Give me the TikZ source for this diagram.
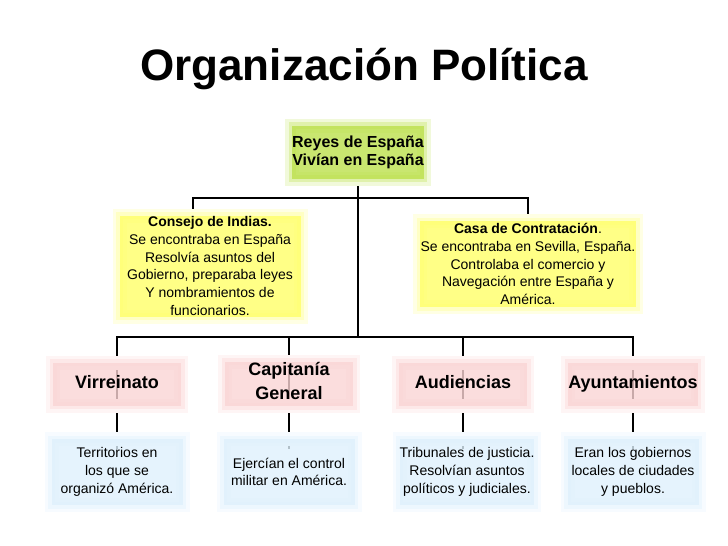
\documentclass[tikz,border=0pt]{standalone}
\usepackage{fontspec}
\setmainfont{Liberation Sans}
\usetikzlibrary{backgrounds}

\definecolor{reyesin}{RGB}{188,224,76}
\definecolor{reyesout}{RGB}{224,241,172}
\definecolor{amarilloin}{RGB}{255,255,104}
\definecolor{amarilloout}{RGB}{255,255,196}
\definecolor{rojoin}{RGB}{250,212,212}
\definecolor{rojoout}{RGB}{253,232,232}
\definecolor{azulin}{RGB}{222,240,252}
\definecolor{azulout}{RGB}{237,247,254}

\begin{document}
\begin{tikzpicture}[x=1pt,y=-1pt,
  caja/.style={align=center,inner sep=0pt,outer sep=0pt,fill opacity=0.8,text opacity=1,font=\fontsize{14}{17.8}\selectfont},
  brillo/.style 2 args={preaction={draw=#2!45!white,draw opacity=1,line width=14pt},preaction={draw=#2,draw opacity=1,line width=7pt},fill=#1},
  cajareyes/.style={caja,brillo={reyesin}{reyesout},minimum width=131pt,minimum height=53pt,font=\fontsize{16}{18}\selectfont\bfseries},
  cajaamarilla/.style={caja,brillo={amarilloin}{amarilloout}},
  cajaroja/.style={caja,brillo={rojoin}{rojoout},minimum width=128pt,minimum height=43pt,font=\fontsize{18}{24}\selectfont\bfseries,execute at begin node=\strut,execute at end node=\strut},
  cajaazul/.style={caja,brillo={azulin}{azulout},minimum width=131pt,minimum height=66pt},
  enlace/.style={line width=1.6pt}]

\useasboundingbox (0,0) rectangle (728,546);

\node [font=\fontsize{44}{50}\selectfont\bfseries] at (364,69) (titulo) {Organización Política};

\node [cajareyes] at (358,152) (reyes) {Reyes de España\\Vivían en España};

\node [cajaamarilla,minimum width=181pt,minimum height=101pt] at (210,266) (consejo) {\textbf{Consejo de Indias.}\\Se encontraba en España\\Resolvía asuntos del\\Gobierno, preparaba leyes\\Y nombramientos de\\funcionarios.};
\node [cajaamarilla,minimum width=216pt,minimum height=86pt] at (528,264) (casa) {\textbf{Casa de Contratación}.\\Se encontraba en Sevilla, España.\\Controlaba el comercio y\\Navegación entre España y\\América.};

\node [cajaroja] at (117,384) (virreinato) {Virreinato};
\node [cajaroja] at (289,384) (capitania) {Capitanía\\General};
\node [cajaroja] at (463,384) (audiencias) {Audiencias};
\node [cajaroja] at (633,384) (ayuntamientos) {Ayuntamientos};

\node [cajaazul] at (117,472) (territorios) {Territorios en\\los que se\\organizó América.};
\node [cajaazul] at (289,472) (ejercian) {Ejercían el control\\militar en América.};
\node [cajaazul] at (467,472) (tribunales) {Tribunales de justicia.\\Resolvían asuntos\\políticos y judiciales.};
\node [cajaazul] at (633,472) (eran) {Eran los gobiernos\\locales de ciudades\\y pueblos.};

\coordinate (bus1) at (358,198);
\coordinate (bus2) at (358,337);

\begin{scope}[on background layer]
\draw [enlace] ([yshift=7pt]reyes.south) -- (bus2);
\draw [enlace] ([xshift=-17pt,yshift=3pt]consejo.north) |- (bus1) -| ([yshift=5pt]casa.north);
\draw [enlace] (virreinato.center) |- (bus2) -| (ayuntamientos.center);
\draw [enlace] (capitania.center) -- (capitania |- bus2);
\draw [enlace] (audiencias.center) -- (audiencias |- bus2);

\draw [enlace] (virreinato.center) -- ([yshift=-10pt]virreinato |- territorios.north);
\draw [enlace] (capitania.center) -- ([yshift=-10pt]capitania |- ejercian.north);
\draw [enlace] (audiencias.center) -- ([yshift=-10pt]audiencias |- tribunales.north);
\draw [enlace] (ayuntamientos.center) -- ([yshift=-10pt]ayuntamientos |- eran.north);
\end{scope}

\end{tikzpicture}
\end{document}
